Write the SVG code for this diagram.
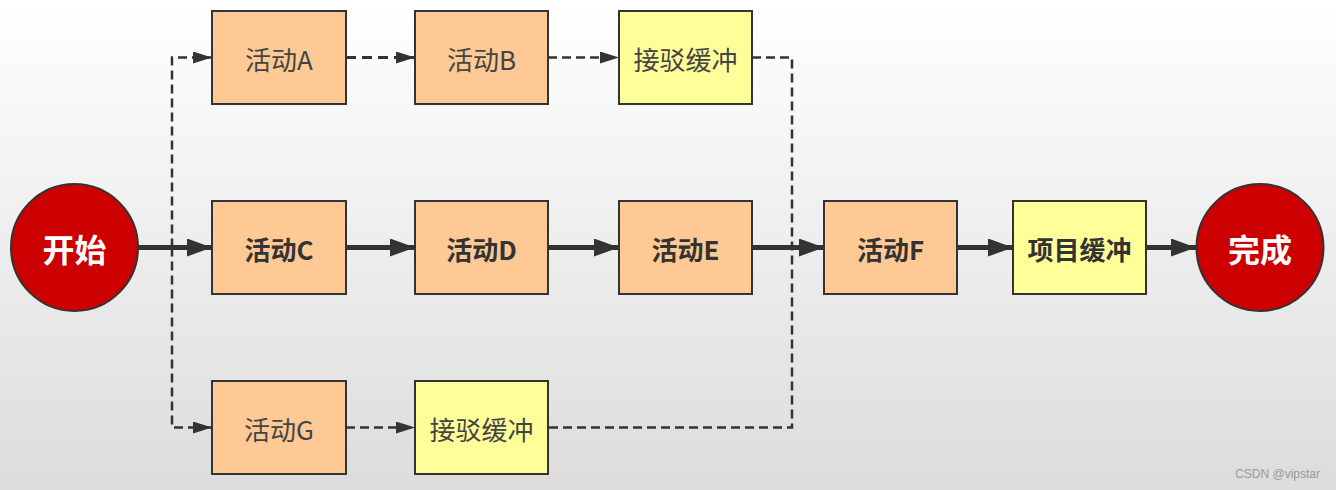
<svg xmlns="http://www.w3.org/2000/svg" width="1336" height="490" viewBox="0 0 1336 490">
<defs>
<linearGradient id="bg" x1="0" y1="0" x2="0" y2="1">
<stop offset="0" stop-color="#ffffff"/>
<stop offset="1" stop-color="#dcdcdc"/>
</linearGradient>
<marker id="as" markerUnits="userSpaceOnUse" markerWidth="26" markerHeight="18" refX="25" refY="9" orient="auto">
<path d="M0,0 L25,9 L0,18 z" fill="#333"/>
</marker>
<marker id="ad" markerUnits="userSpaceOnUse" markerWidth="20" markerHeight="12" refX="19" refY="6" orient="auto">
<path d="M0,0 L19,6 L0,12 z" fill="#333"/>
</marker>
</defs>
<style>
.act{fill:#ffc995;stroke:#333;stroke-width:2}
.buf{fill:#ffff99;stroke:#333;stroke-width:2}
.ev{fill:#cc0000;stroke:#333;stroke-width:2}
.t{font-family:"Noto Sans CJK SC","Liberation Sans",sans-serif;font-size:26px;fill:#444;text-anchor:middle;dominant-baseline:central}
.b{font-weight:bold;fill:#333}
.w{font-family:"Noto Sans CJK SC","Liberation Sans",sans-serif;font-size:32px;font-weight:bold;fill:#fff;text-anchor:middle;dominant-baseline:central}
.s{fill:none;stroke:#333;stroke-width:5}
.d{fill:none;stroke:#333;stroke-width:2.5;stroke-dasharray:9 5}
.dk{stroke-width:3.2;stroke-dasharray:10 6}
</style>
<rect x="0" y="0" width="1336" height="490" fill="url(#bg)"/>
<g id="connectors">
<path class="d" d="M172,247.5 V57.5 H212" marker-end="url(#ad)"/>
<path class="d" d="M172,247.5 V427.5 H212" marker-end="url(#ad)"/>
<path class="d dk" d="M346,57.5 H415" marker-end="url(#ad)"/>
<path class="d" d="M548,57.5 H619" marker-end="url(#ad)"/>
<path class="d" d="M346,427.5 H415" marker-end="url(#ad)"/>
<path class="d" d="M752,57.5 H792 V427.5 H548"/>
<path class="s" d="M138,247.5 H212" marker-end="url(#as)"/>
<path class="s" d="M346,247.5 H415" marker-end="url(#as)"/>
<path class="s" d="M548,247.5 H619" marker-end="url(#as)"/>
<path class="s" d="M752,247.5 H824" marker-end="url(#as)"/>
<path class="s" d="M957,247.5 H1013" marker-end="url(#as)"/>
<path class="s" d="M1146,247.5 H1196" marker-end="url(#as)"/>
</g>
<g id="start"><circle class="ev" cx="74.5" cy="247.5" r="63.5"/><text class="w" x="74.5" y="247.5">开始</text></g>
<g id="actA"><rect class="act" x="212" y="11" width="134" height="93"/><text class="t" x="279" y="58">活动A</text></g>
<g id="actB"><rect class="act" x="415" y="11" width="133" height="93"/><text class="t" x="481.5" y="58">活动B</text></g>
<g id="buf1"><rect class="buf" x="619" y="11" width="133" height="93"/><text class="t" x="685.5" y="58">接驳缓冲</text></g>
<g id="actC"><rect class="act" x="212" y="201" width="134" height="93"/><text class="t b" x="279" y="248">活动C</text></g>
<g id="actD"><rect class="act" x="415" y="201" width="133" height="93"/><text class="t b" x="481.5" y="248">活动D</text></g>
<g id="actE"><rect class="act" x="619" y="201" width="133" height="93"/><text class="t b" x="685.5" y="248">活动E</text></g>
<g id="actF"><rect class="act" x="824" y="201" width="133" height="93"/><text class="t b" x="890.5" y="248">活动F</text></g>
<g id="projbuf"><rect class="buf" x="1013" y="201" width="133" height="93"/><text class="t b" x="1079.5" y="248">项目缓冲</text></g>
<g id="finish"><circle class="ev" cx="1260" cy="247.5" r="63.5"/><text class="w" x="1260" y="247.5">完成</text></g>
<g id="actG"><rect class="act" x="212" y="381" width="134" height="93"/><text class="t" x="279" y="428">活动G</text></g>
<g id="buf2"><rect class="buf" x="415" y="381" width="133" height="93"/><text class="t" x="481.5" y="428">接驳缓冲</text></g>
<text x="1320" y="478" font-family="Liberation Sans, sans-serif" font-size="12" fill="#999" text-anchor="end">CSDN @vipstar</text>
</svg>
